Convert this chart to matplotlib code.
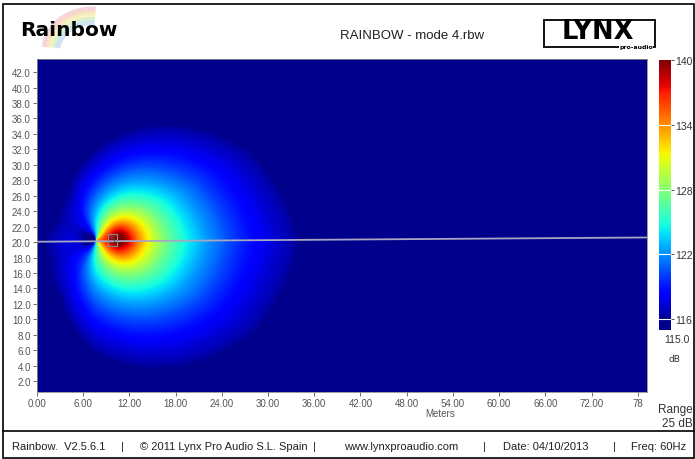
import numpy as np
import matplotlib

matplotlib.use("Agg")
import matplotlib.pyplot as plt
from matplotlib.colors import LinearSegmentedColormap, Normalize
from matplotlib.patches import Rectangle, Arc

plt.rcParams["font.family"] = ["Liberation Sans", "DejaVu Sans"]

# --- chart text / axes -------------------------------------------------------
title = "RAINBOW - mode 4.rbw"
footer_parts = ["Rainbow.  V2.5.6.1", "|", "\u00a9 2011 Lynx Pro Audio S.L. Spain", "|",
                "www.lynxproaudio.com", "|", "Date: 04/10/2013", "|", "Freq: 60Hz"]
footer_px = [12, 121, 140, 313, 344, 483, 503, 613, 631]
x_ticks = [0, 6, 12, 18, 24, 30, 36, 42, 48, 54, 60, 66, 72, 78]
x_tick_labels = ["0.00", "6.00", "12.00", "18.00", "24.00", "30.00", "36.00",
                 "42.00", "48.00", "54.00", "60.00", "66.00", "72.00", "78"]
y_ticks = [2, 4, 6, 8, 10, 12, 14, 16, 18, 20, 22, 24, 26, 28, 30, 32, 34, 36, 38, 40, 42]
x_range = (0.0, 79.2)
y_range = (0.6, 43.7)
cbar_ticks = [116, 122, 128, 134, 140]
db_floor, db_low, db_high = 115.0, 116.0, 140.0
range_db = 25

# --- source --------------------------------------------------------------------
src_x, src_y = 9.8, 20.3          # marker "5"
core_x, core_y = 10.6, 20.4       # centre of the red core
pattern_x = 7.6                   # origin of the directivity (rear notch)
level_1m = 143.5                  # dB at 1 m on axis
core_radius = 1.3                 # m, caps the peak
notch_scale = 2.6                 # m, reach of the rear notch
# directivity (deg, + = up; dB re on-axis)
dir_angle = [-180, -150, -120, -90, -60, -30, 0, 30, 60, 90, 120, 150, 180]
dir_gain = [-7.0, -7.2, -6.5, -3.8, -2.3, -0.8, 0.0, -1.2, -3.4, -5.8, -8.0, -8.0, -7.0]
line_start = (0.0, 20.05)
line_end = (79.2, 20.6)

# --- field --------------------------------------------------------------------
gx = np.linspace(*x_range, 800)
gy = np.linspace(*y_range, 440)
X, Y = np.meshgrid(gx, gy)
r_pat = np.hypot(X - pattern_x, Y - src_y)
theta = np.degrees(np.arctan2(Y - src_y, X - pattern_x))
gain = np.interp(theta, dir_angle, dir_gain)
w = 1 - np.exp(-r_pat / notch_scale)
notch = w + (1 - w) * np.abs(0.5 + 0.5 * np.cos(np.radians(theta)))
r_amp = np.hypot(np.hypot(X - core_x, Y - core_y), core_radius)
spl = level_1m - 20 * np.log10(r_amp) + gain + 20 * np.log10(np.maximum(notch, 0.02))

jet = plt.get_cmap("jet")
cmap = LinearSegmentedColormap.from_list(
    "rbw", [(0.0, 0.0, 0.55)] + [jet(v) for v in np.linspace(0.04, 1, 60)])
cmap.set_under((0.0, 0.0, 0.55))
norm = Normalize(db_low, db_high)

# --- figure -------------------------------------------------------------------
W, H = 695, 460
fig = plt.figure(figsize=(W / 100, H / 100), dpi=100, facecolor="white")


def fx(px):
    return px / W


def fy(py):
    return 1 - py / H


ax = fig.add_axes([fx(37), fy(393), fx(647) - fx(37), fy(60) - fy(393)])
ax.imshow(spl, extent=[*x_range, *y_range], origin="lower", cmap=cmap, norm=norm,
          aspect="auto", interpolation="bilinear")
ax.plot([line_start[0], line_end[0]], [line_start[1], line_end[1]],
        color="#a6a6c4", lw=1.3, solid_capstyle="butt")
ax.text(src_x, src_y, "5", fontsize=6.5, color="#555555", ha="center", va="center",
        family="DejaVu Sans",
        bbox=dict(boxstyle="square,pad=0.15", fc="none", ec="#8a8a8a", lw=0.9))
ax.set_xlim(*x_range)
ax.set_ylim(*y_range)
ax.set_xticks(x_ticks)
ax.set_xticklabels(x_tick_labels)
ax.set_yticks(y_ticks)
ax.set_yticklabels([f"{v:.1f}" for v in y_ticks])
ax.tick_params(labelsize=7, colors="#555555", length=3, width=0.6, pad=1.5)
for s in ax.spines.values():
    s.set_color("#8a8a8a")
    s.set_linewidth(0.6)
fig.text(fx(440), fy(414), "Meters", fontsize=7, color="#555555", ha="center",
         va="center")

# colour bar drawn as its own little map
cax = fig.add_axes([fx(659), fy(331), fx(671) - fx(659), fy(61) - fy(331)])
bar = np.linspace(db_floor, db_high, 500).reshape(-1, 1)
cax.imshow(bar, extent=[0, 1, db_floor, db_high], origin="lower", cmap=cmap,
           norm=norm, aspect="auto")
for t in cbar_ticks[:-1]:
    cax.axhline(t, color="white", lw=0.8)
cax.set_xlim(0, 1)
cax.set_ylim(db_floor, db_high)
cax.set_xticks([])
cax.yaxis.tick_right()
cax.set_yticks(cbar_ticks)
cax.set_yticklabels([f"{t:.1f}" for t in cbar_ticks])
cax.tick_params(axis="y", labelsize=7.5, colors="#333333", length=2, width=0.6, pad=1)
for s in cax.spines.values():
    s.set_visible(False)
fig.text(fx(664), fy(340), f"{db_floor:.1f}", fontsize=7.5, color="#333333",
         ha="left", va="center")
fig.text(fx(674), fy(360), "dB", fontsize=6.5, color="#333333", ha="center",
         va="center", family="DejaVu Sans")
fig.text(fx(693), fy(410), "Range", fontsize=8.5, color="#333333", ha="right",
         va="center")
fig.text(fx(693), fy(424), f"{range_db} dB", fontsize=8.5, color="#333333",
         ha="right", va="center")

# header
hdr = fig.add_axes([0, 0, 1, 1], zorder=-1)
hdr.set_xlim(0, W)
hdr.set_ylim(H, 0)
hdr.axis("off")
for i, c in enumerate(["#f6c9d4", "#f9dcb8", "#f7f2b6", "#cfeec9", "#c9def4"]):
    hdr.add_patch(Arc((92, 52), 96 - 7 * i, 84 - 7 * i, theta1=185, theta2=275,
                      color=c, lw=3.5, alpha=0.8))
fig.text(fx(20), fy(30), "Rainbow", fontsize=14.5, fontweight="heavy", color="black",
         ha="left", va="center", family="DejaVu Sans")
fig.text(fx(412), fy(36), title, fontsize=9.5, color="#222222", ha="center",
         va="center")
hdr.add_patch(Rectangle((544, 21), 111, 27, fill=False, ec="black", lw=1.3))
fig.text(fx(598), fy(32), "LYNX", fontsize=18.5, fontweight="heavy", color="black",
         ha="center", va="center", family="DejaVu Sans")
fig.text(fx(653), fy(47), "pro-audio", fontsize=4.5, fontweight="bold",
         color="black", ha="right", va="center", family="DejaVu Sans",
         bbox=dict(fc="white", ec="none", pad=0.3))

# frame and footer
hdr.add_patch(Rectangle((3, 5), 691, 454, fill=False, ec="black", lw=1.2))
hdr.plot([3, 694], [432, 432], color="black", lw=1.2)
for part, px in zip(footer_parts, footer_px):
    fig.text(fx(px), fy(447), part, fontsize=8, color="#222222", ha="left",
             va="center")

fig.savefig("out.png", dpi=100, facecolor="white")
